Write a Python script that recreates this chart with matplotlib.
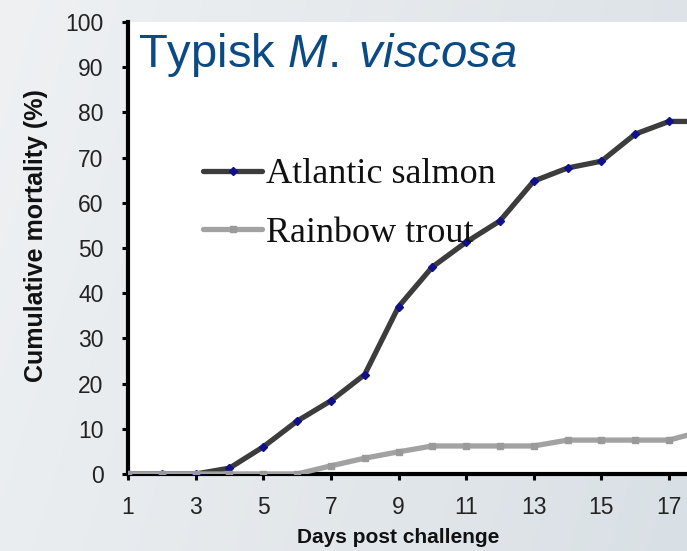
import numpy as np
import matplotlib
matplotlib.use("Agg")
import matplotlib.pyplot as plt
from matplotlib.font_manager import FontProperties

days = list(range(1, 19))
atlantic_salmon = [0, 0, 0, 1.3, 6, 11.7, 16.2, 22, 37, 45.8, 51.3, 56, 64.8, 67.7, 69.2, 75.2, 78, 78]
rainbow_trout = [0, 0, 0, 0, 0, 0, 1.8, 3.5, 4.9, 6.2, 6.2, 6.2, 6.2, 7.5, 7.5, 7.5, 7.5, 9.5]
series_labels = ["Atlantic salmon", "Rainbow trout"]
x_ticks = list(range(1, 18, 2))
y_ticks = list(range(0, 101, 10))
title_plain = "Typisk "
title_italic = "M.\\;viscosa"
x_label = "Days post challenge"
y_label = "Cumulative mortality (%)"

plt.rcParams['font.family'] = ['Liberation Sans', 'DejaVu Sans']
plt.rcParams['mathtext.fontset'] = 'custom'
plt.rcParams['mathtext.rm'] = 'Liberation Sans'
plt.rcParams['mathtext.it'] = 'Liberation Sans:italic'

W, H = 687, 551
fig = plt.figure(figsize=(W / 100, H / 100), dpi=100)

# background gradient
bg = fig.add_axes([0, 0, 1, 1], zorder=0)
gx = np.linspace(0, 1, 200)[None, :]
gy = np.linspace(0, 1, 200)[:, None]
c_left = np.array([0xef, 0xf1, 0xf3]) / 255
c_right = np.array([0xd9, 0xe0, 0xe5]) / 255
t = np.clip(0.8 * gx + 0.2 * gy, 0, 1)
img = c_left[None, None, :] * (1 - t[..., None]) + c_right[None, None, :] * t[..., None]
bg.imshow(img, aspect='auto', extent=[0, 1, 0, 1], origin='upper')
bg.axis('off')

left = 128 / W
bottom = (H - 474) / H
top = (H - 22) / H
ax = fig.add_axes([left, bottom, 1 - left, top - bottom], zorder=1)
ax.set_facecolor('white')

ax.plot(days, atlantic_salmon, color='#3c3c3c', lw=3.8, marker='D', ms=4.5,
        mfc='#10108a', mec='#10108a', label=series_labels[0], zorder=3, solid_capstyle='round')
ax.plot(days, rainbow_trout, color='#a2a2a2', lw=3.8, marker='s', ms=4.5,
        mfc='#9a9a9a', mec='#9a9a9a', label=series_labels[1], zorder=4, solid_capstyle='round')

ax.set_xlim(1, 1 + (W - 128) / ((669 - 128) / 16))
ax.set_ylim(0, 100)
ax.set_xticks(x_ticks)
ax.set_yticks(y_ticks)
for s in ['top', 'right']:
    ax.spines[s].set_visible(False)
for s in ['left', 'bottom']:
    ax.spines[s].set_linewidth(3)
    ax.spines[s].set_color('black')
ax.tick_params(axis='both', direction='out', length=4.5, width=2.2, colors='black',
               labelcolor='#222222', labelsize=16.5)
ax.tick_params(axis='y', pad=13)
ax.tick_params(axis='x', pad=11)

ax.text(0.018, 0.900, title_plain + "$\\mathit{" + title_italic + "}$", transform=ax.transAxes,
        fontsize=34, color='#0b4a82', ha='left', va='baseline')

leg = ax.legend(loc='upper left', bbox_to_anchor=(0.134, 0.699), frameon=False,
                prop=FontProperties(family='Liberation Serif', size=26),
                handlelength=1.64, handletextpad=0.1, labelspacing=0.7,
                borderpad=0, borderaxespad=0, numpoints=1)
for txt in leg.get_texts():
    txt.set_color('#111111')

fig.text(398 / W, (H - 543) / H, x_label, ha='center', va='baseline',
         fontsize=15, fontweight='bold', color='#111111')
fig.text(36 / W, (H - 236) / H, y_label, ha='center', va='center', rotation=90,
         fontsize=18, fontweight='bold', color='#111111')

fig.savefig('out.png', dpi=100)
